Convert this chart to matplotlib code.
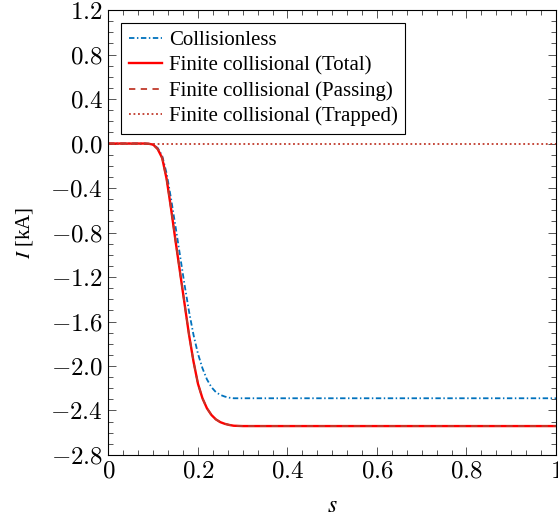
import matplotlib
matplotlib.use("Agg")
from matplotlib import pyplot as plt
from matplotlib.ticker import MultipleLocator

# values
s_vals = [0.0, 0.05, 0.08, 0.09, 0.10, 0.11, 0.12, 0.13, 0.14, 0.15, 0.16, 0.17, 0.18, 0.19,
          0.20, 0.21, 0.22, 0.23, 0.24, 0.25, 0.26, 0.27, 0.28, 0.30, 0.40, 0.60, 0.80, 1.0]
I_collisionless = [0.0, 0.0, 0.0, -0.002, -0.01, -0.04, -0.11, -0.27, -0.50, -0.75, -1.01, -1.27,
                   -1.51, -1.72, -1.89, -2.02, -2.12, -2.19, -2.235, -2.26, -2.275, -2.285,
                   -2.29, -2.29, -2.29, -2.29, -2.29, -2.29]
I_total = [0.0, 0.0, 0.0, -0.002, -0.01, -0.05, -0.13, -0.32, -0.59, -0.88, -1.16, -1.44,
           -1.72, -1.96, -2.16, -2.29, -2.38, -2.44, -2.48, -2.505, -2.52, -2.53,
           -2.537, -2.54, -2.54, -2.54, -2.54, -2.54]
I_passing = I_total
I_trapped = [0.0] * len(s_vals)

xticks = [0, 0.2, 0.4, 0.6, 0.8, 1.0]
xticklabels = ["$0$", "$0.2$", "$0.4$", "$0.6$", "$0.8$", "$1$"]
yticks = [1.2, 0.8, 0.4, 0.0, -0.4, -0.8, -1.2, -1.6, -2.0, -2.4, -2.8]

plt.rcParams["font.family"] = ["Liberation Serif", "DejaVu Serif"]
plt.rcParams["mathtext.fontset"] = "cm"
plt.rcParams["font.size"] = 15

fig = plt.figure(figsize=(5.58, 5.21), dpi=100)
ax = fig.add_axes([0.1944, 0.1267, 0.802, 0.854])

blue = "#0072bd"
red = "#ff0000"
dark = "#c0392b"

ax.plot(s_vals, I_collisionless, color=blue, lw=1.3, ls=(0, (3, 1.4, 0.8, 1.4)), label="Collisionless")
ax.plot(s_vals, I_total, color=red, lw=1.7, label="Finite collisional (Total)")
ax.plot(s_vals, I_passing, color=dark, lw=1.3, ls=(0, (3.5, 3)), label="Finite collisional (Passing)")
ax.plot(s_vals, I_trapped, color=dark, lw=1.3, ls=(0, (1, 1.5)), label="Finite collisional (Trapped)")

ax.set_xlim(0, 1)
ax.set_ylim(-2.8, 1.2)
ax.set_xticks(xticks)
ax.set_xticklabels(xticklabels, fontsize=18)
ax.set_yticks(yticks)
ax.set_yticklabels(["$%.1f$" % v for v in yticks], fontsize=18)
ax.xaxis.set_minor_locator(MultipleLocator(0.2 / 6))
ax.yaxis.set_minor_locator(MultipleLocator(0.1))
ax.tick_params(which="both", direction="in", top=True, right=True, color="#555555", width=0.7)
ax.tick_params(which="major", length=5.5, pad=4)
ax.tick_params(which="minor", length=3.5)
for sp in ax.spines.values():
    sp.set_linewidth(0.8)

ax.set_xlabel("$s$", fontsize=17, math_fontfamily="stix")
ax.set_ylabel("$I$ [kA]", fontsize=15, math_fontfamily="stix")
ax.xaxis.set_label_coords(0.5, -0.093)
ax.yaxis.set_label_coords(-0.165, 0.5)

leg = ax.legend(loc="upper left", bbox_to_anchor=(0, 1), borderaxespad=0.62, fancybox=False,
                edgecolor="black", framealpha=1, handlelength=1.6, handletextpad=0.35,
                borderpad=0.35, labelspacing=0.28, fontsize=15)
leg.get_frame().set_linewidth(0.8)

fig.savefig("out.png", dpi=100)
